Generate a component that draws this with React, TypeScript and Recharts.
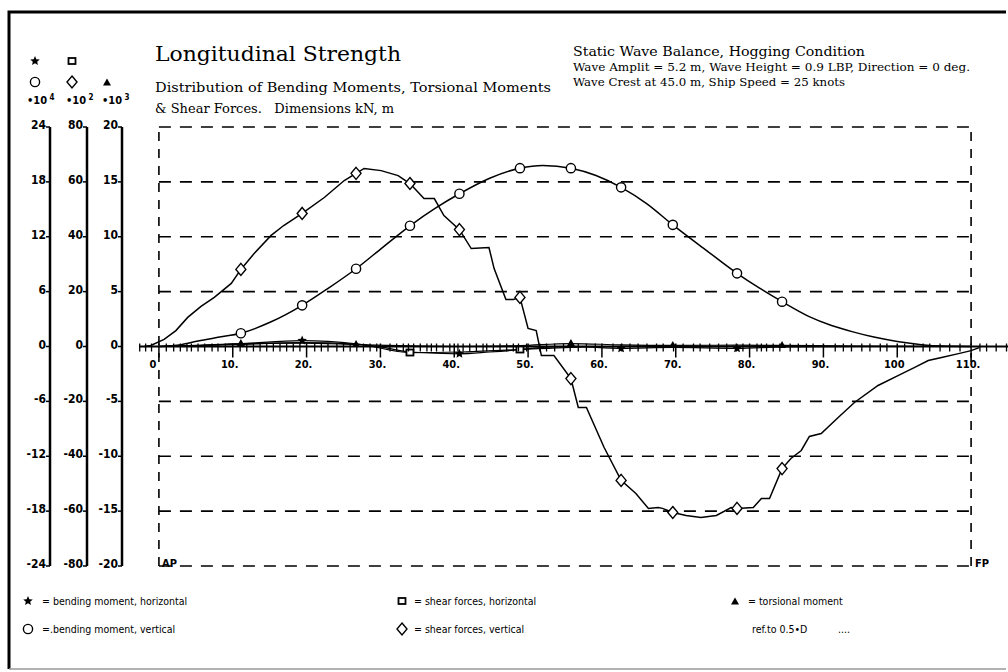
import React from "react";
import { ComposedChart, Line, Scatter, XAxis, YAxis, ReferenceLine } from "recharts";

const W = 1008;
const H = 672;

const serif = "'DejaVu Serif', 'Liberation Serif', serif";
const plotter = "'DejaVu Sans Condensed', 'DejaVu Sans', sans-serif";

// left scales: bending moments (x10^4), shear forces (x10^2), torsion (x10^3)
const ticksBending = [-24, -18, -12, -6, 0, 6, 12, 18, 24];
const ticksShear = [-80, -60, -40, -20, 0, 20, 40, 60, 80];
const ticksTorsion = [-20, -15, -10, -5, 0, 5, 10, 15, 20];
const gridLevels = [-20, -15, -10, -5, 5, 10, 15, 20];

// x axis: 10 m stations with labels, plus the frame marks in between
const majorX = [0, 10, 20, 30, 40, 50, 60, 70, 80, 90, 100, 110];
const majorLabels = ["0", "10.", "20.", "30.", "40.", "50.", "60.", "70.", "80.", "90.", "100", "110."];
const frameX = [
  -2.6, -1.8, -1.0, 1.0, 2.0, 2.9, 3.8, 4.4, 5.3, 6.2, 7.2, 8.0, 9.0, 11.0, 11.9, 12.8,
  13.7, 14.6, 15.5, 16.4, 17.3, 18.2, 19.1, 21.1, 22.0, 22.9, 24.1, 25.0, 25.9, 26.8,
  27.7, 28.6, 29.5, 31.3, 32.2, 33.1, 33.8, 34.5, 35.4, 36.3, 36.9, 37.6, 38.5, 39.4,
  40.5, 41.2, 42.1, 43.0, 43.9, 44.4, 45.3, 46.2, 47.1, 48.0, 48.7, 49.8, 51.6, 52.5,
  53.6, 54.8, 55.7, 56.8, 57.9, 59.1, 61.5, 62.7, 63.8, 64.9, 66.1, 67.4, 68.3, 69.7,
  71.0, 72.4, 73.3, 74.6, 75.8, 76.9, 78.2, 79.1, 81.0, 81.6, 82.3, 83.2, 84.1, 85.5,
  86.6, 87.7, 88.6, 91.6, 92.7, 93.8, 95.2, 96.3, 97.7, 98.6, 101.0, 102.2, 103.5,
  104.4, 105.8, 107.1, 108.5, 111.2, 112.1, 113.4, 114.8,
];

// bending moment, vertical  (x10^4 kNm)
const bmVertX = [0, 3, 5.3, 8, 11.1, 15.2, 19.4, 23, 26.7, 30.4, 34.0, 37.4, 40.7, 44.8, 48.9, 52, 55.8, 59.2, 62.6, 66.1, 69.6, 74, 78.3, 81.3, 84.4, 88, 91.1, 94, 97, 100, 103.3, 106, 110];
const bmVertV = [0, 0.2, 0.6, 1.0, 1.45, 2.7, 4.5, 6.4, 8.5, 10.9, 13.2, 15.1, 16.7, 18.4, 19.5, 19.8, 19.5, 18.7, 17.4, 15.6, 13.3, 10.6, 8.0, 6.4, 4.9, 3.3, 2.3, 1.6, 1.0, 0.55, 0.2, 0.05, 0];
const bmVertMarks = [11.1, 19.4, 26.7, 34.0, 40.7, 48.9, 55.8, 62.6, 69.6, 78.3, 84.4];

// shear forces, vertical  (x10^2 kN)
const sfVertX = [-2.0, -1.1, 0.7, 2.3, 3.9, 5.7, 7.5, 9.8, 11.1, 12.9, 15.2, 16.9, 19.4, 22.4, 25.1, 26.7, 27.8, 30.1, 32.4, 34.0, 35.9, 37.3, 38.6, 40.7, 42.3, 44.7, 45.4, 47.0, 48.0, 48.9, 50.0, 51.1, 51.8, 53.5, 55.8, 56.8, 57.9, 60.3, 62.6, 64.6, 66.3, 67.6, 68.2, 69.6, 71.4, 73.4, 75.5, 77.5, 78.3, 80.5, 81.6, 82.7, 84.4, 85.6, 87.0, 88.1, 89.7, 92.0, 94.2, 97.4, 100.1, 102.3, 104.2, 106.0, 108.3, 110.0, 111.1];
const sfVertV = [0, 0.4, 2.6, 5.8, 10.6, 14.6, 17.9, 23.0, 28.1, 33.9, 40.5, 44.1, 48.5, 54.3, 60.5, 63.1, 64.9, 64.1, 62.3, 59.4, 53.9, 53.9, 47.7, 42.6, 35.7, 36.1, 28.4, 17.1, 17.1, 17.9, 6.6, 5.8, -3.3, -3.3, -11.7, -22.2, -22.2, -36.8, -48.8, -53.6, -59.0, -58.7, -59.0, -60.5, -61.6, -62.3, -61.6, -58.7, -59.0, -58.7, -55.4, -55.4, -44.5, -40.8, -37.9, -32.8, -31.7, -25.9, -20.4, -14.2, -10.6, -7.7, -5.1, -4.0, -2.6, -1.5, -0.4];
const sfVertMarks = [11.1, 19.4, 26.7, 34.0, 40.7, 48.9, 55.8, 62.6, 69.6, 78.3, 84.4];

// bending moment, horizontal  (x10^4 kNm)
const bmHorX = [0, 5.3, 11.1, 19.4, 26.7, 30.4, 34.0, 40.7, 44.8, 48.9, 52, 55.8, 62.6, 69.6, 78.3, 84.4, 95, 110];
const bmHorV = [0, 0.1, 0.3, 0.65, 0.3, -0.1, -0.6, -0.8, -0.6, -0.35, -0.1, 0, -0.2, -0.1, -0.2, -0.05, 0, 0];
const bmHorMarks = [19.4, 40.7, 62.6, 78.3];

// shear forces, horizontal  (x10^2 kN)
const sfHorX = [0, 11.1, 19.4, 26.7, 34.0, 40.7, 48.9, 55.8, 62.6, 110];
const sfHorV = [0, 0.8, 1.4, 0.9, -2.2, -2.0, -1.1, -0.3, 0, 0];
const sfHorMarks = [34.0, 48.9];

// torsional moment  (x10^3 kNm)
const torsX = [0, 5, 11.1, 19.4, 26.7, 34.0, 40.7, 48.9, 55.8, 62.6, 69.6, 78.3, 84.4, 95, 110];
const torsV = [0, 0.1, 0.27, 0.3, 0.18, 0.05, 0, 0.08, 0.27, 0.15, 0.1, 0.12, 0.1, 0.03, 0];
const torsMarks = [11.1, 26.7, 55.8, 69.6, 84.4];

const rows = (xs: number[], vs: number[]) => xs.map((x, i) => ({ x, v: vs[i] }));

function Mark({ kind, cx, cy }: { kind: string; cx: number; cy: number }) {
  const s = { stroke: "#000", strokeWidth: 1.4 };
  if (kind === "circle") return <circle cx={cx} cy={cy} r={4.6} fill="#fff" {...s} />;
  if (kind === "diamond")
    return <polygon points={`${cx},${cy - 6} ${cx + 5},${cy} ${cx},${cy + 6} ${cx - 5},${cy}`} fill="#fff" {...s} />;
  if (kind === "square") return <rect x={cx - 3.5} y={cy - 3} width={7} height={6} fill="#fff" stroke="#000" strokeWidth={1.8} />;
  if (kind === "triangle")
    return <polygon points={`${cx},${cy - 4.5} ${cx + 4},${cy + 2.5} ${cx - 4},${cy + 2.5}`} fill="#000" />;
  const pts: string[] = [];
  for (let i = 0; i < 10; i++) {
    const r = i % 2 === 0 ? 5 : 2.3;
    const a = -Math.PI / 2 + (i * Math.PI) / 5;
    pts.push(`${cx + r * Math.cos(a)},${cy + r * Math.sin(a)}`);
  }
  return <polygon points={pts.join(" ")} fill="#000" />;
}

const dotFor = (kind: string, marks: number[]) => (p: any) => {
  const on = marks.some((m) => Math.abs(m - p.payload.x) < 0.01);
  return on ? <Mark key={`${kind}-${p.index}`} kind={kind} cx={p.cx} cy={p.cy} /> : <g key={`${kind}-${p.index}`} />;
};

const AxisTick = (props: any) => {
  const { x, y, payload } = props;
  return (
    <g>
      <line x1={x - 4} x2={x} y1={y} y2={y} stroke="#000" strokeWidth={1.5} />
      <text x={x - 4} y={y + 2} textAnchor="end" fontSize={12} fontWeight="bold" fontFamily={plotter} fill="#000">
        {payload.value}
      </text>
    </g>
  );
};

const FrameMark = (p: any) => (
  <line x1={p.cx} x2={p.cx} y1={p.cy - 3} y2={p.cy + 5} stroke="#000" strokeWidth={1.3} />
);

const MajorMark = (p: any) => (
  <g>
    <line x1={p.cx} x2={p.cx} y1={p.cy - 3} y2={p.cy + 11} stroke="#000" strokeWidth={1.5} />
    <text
      x={p.payload.x === 0 ? p.cx - 6 : p.cx - 3}
      y={p.cy + 21}
      textAnchor="middle"
      fontSize={11}
      fontWeight="bold"
      fontFamily={plotter}
      fill="#000"
    >
      {p.payload.label}
    </text>
  </g>
);

const dash = "12 9";

function Header() {
  const t = { fontFamily: plotter, fontSize: 11, fontWeight: "bold" as const, fill: "#000" };
  return (
    <svg width={W} height={H} style={{ position: "absolute", left: 0, top: 0, pointerEvents: "none" }}>
      <path d="M1006 12 H9 V669" fill="none" stroke="#000" strokeWidth={3} />
      <line x1={9} x2={1006} y1={669} y2={669} stroke="#999" strokeWidth={1.5} />

      <Mark kind="star" cx={35} cy={61} />
      <Mark kind="square" cx={72} cy={61} />
      <Mark kind="circle" cx={35} cy={82} />
      <Mark kind="diamond" cx={72} cy={82} />
      <Mark kind="triangle" cx={107} cy={83} />
      <text x={27} y={104} {...t}>•10<tspan dy={-4} fontSize={8}> 4</tspan></text>
      <text x={66} y={104} {...t}>•10<tspan dy={-4} fontSize={8}> 2</tspan></text>
      <text x={102} y={104} {...t}>•10<tspan dy={-4} fontSize={8}> 3</tspan></text>

      <text x={155} y={61} fontFamily={serif} fontSize={21} textLength={246} lengthAdjust="spacingAndGlyphs">
        Longitudinal Strength
      </text>
      <text x={155} y={92} fontFamily={serif} fontSize={13} textLength={396} lengthAdjust="spacingAndGlyphs">
        Distribution of Bending Moments, Torsional Moments
      </text>
      <text x={155} y={113} fontFamily={serif} fontSize={13} xmlSpace="preserve">
        &amp; Shear Forces.{"\u00a0\u00a0\u00a0"}Dimensions kN, m
      </text>

      <text x={573} y={56} fontFamily={serif} fontSize={13} textLength={292} lengthAdjust="spacingAndGlyphs">
        Static Wave Balance, Hogging Condition
      </text>
      <text x={573} y={71} fontFamily={serif} fontSize={11} textLength={397} lengthAdjust="spacingAndGlyphs">
        Wave Amplit = 5.2 m, Wave Height = 0.9 LBP, Direction = 0 deg.
      </text>
      <text x={573} y={86} fontFamily={serif} fontSize={11} textLength={272} lengthAdjust="spacingAndGlyphs">
        Wave Crest at 45.0 m, Ship Speed = 25 knots
      </text>

      <text x={162} y={567} {...t}>AP</text>
      <text x={975} y={567} {...t}>FP</text>

      <g fontFamily={plotter} fontSize={10.5} fill="#000">
        <Mark kind="star" cx={28} cy={601} />
        <text x={42} y={605}>= bending moment, horizontal</text>
        <Mark kind="square" cx={402} cy={601} />
        <text x={414} y={605}>= shear forces, horizontal</text>
        <Mark kind="triangle" cx={735} cy={602} />
        <text x={748} y={605}>= torsional moment</text>

        <Mark kind="circle" cx={28} cy={629} />
        <text x={42} y={633}>=.bending moment, vertical</text>
        <Mark kind="diamond" cx={402} cy={629} />
        <text x={414} y={633}>= shear forces, vertical</text>
        <text x={752} y={633}>ref.to 0.5•D</text>
        <text x={838} y={633}>....</text>
      </g>
    </svg>
  );
}

export default function App() {
  const frames = frameX.map((x) => ({ x, v: 0 }));
  const majors = majorX.map((x, i) => ({ x, v: 0, label: majorLabels[i] }));
  const line = { stroke: "#000", strokeWidth: 1.5, isAnimationActive: false, activeDot: false as const };
  const axisCommon = {
    interval: 0 as const,
    allowDataOverflow: true,
    tickSize: 0,
    tickMargin: 0,
    tickLine: false,
    tick: <AxisTick />,
    axisLine: { stroke: "#000", strokeWidth: 2.5 },
  };

  // axis ids are ordered outward from the plot: m1 torsion, m2 shear, m3 bending
  return (
    <div style={{ position: "absolute", left: 0, top: 0, width: W, height: H, background: "#fff" }}>
      <ComposedChart width={W} height={H} margin={{ top: 127, right: 0, bottom: 106, left: 10 }}>
        <XAxis type="number" dataKey="x" domain={[-5, 115]} allowDataOverflow hide />
        <YAxis yAxisId="m1" width={35} domain={[-20, 20]} ticks={ticksTorsion} {...axisCommon} />
        <YAxis yAxisId="m2" width={37} domain={[-80, 80]} ticks={ticksShear} {...axisCommon} />
        <YAxis yAxisId="m3" width={40} domain={[-24, 24]} ticks={ticksBending} {...axisCommon} />

        {gridLevels.map((v) => (
          <ReferenceLine
            key={`g${v}`}
            yAxisId="m1"
            ifOverflow="visible"
            segment={[{ x: 0, y: v }, { x: 110, y: v }]}
            stroke="#000"
            strokeWidth={1.6}
            strokeDasharray={dash}
          />
        ))}
        {[0, 110].map((x) => (
          <ReferenceLine
            key={`v${x}`}
            yAxisId="m1"
            ifOverflow="visible"
            segment={[{ x, y: -20 }, { x, y: 20 }]}
            stroke="#000"
            strokeWidth={1.6}
            strokeDasharray="9 8"
          />
        ))}
        <ReferenceLine
          yAxisId="m1"
          ifOverflow="visible"
          segment={[{ x: -2.7, y: 0 }, { x: 115, y: 0 }]}
          stroke="#000"
          strokeWidth={2}
        />

        <Line yAxisId="m3" data={rows(bmVertX, bmVertV)} dataKey="v" type="monotone" dot={dotFor("circle", bmVertMarks)} {...line} />
        <Line yAxisId="m2" data={rows(sfVertX, sfVertV)} dataKey="v" type="linear" dot={dotFor("diamond", sfVertMarks)} {...line} />
        <Line yAxisId="m3" data={rows(bmHorX, bmHorV)} dataKey="v" type="monotone" dot={dotFor("star", bmHorMarks)} {...line} strokeWidth={1.2} />
        <Line yAxisId="m2" data={rows(sfHorX, sfHorV)} dataKey="v" type="monotone" dot={dotFor("square", sfHorMarks)} {...line} strokeWidth={1.2} />
        <Line yAxisId="m1" data={rows(torsX, torsV)} dataKey="v" type="monotone" dot={dotFor("triangle", torsMarks)} {...line} strokeWidth={1.2} />

        <Scatter yAxisId="m1" data={frames} dataKey="v" shape={FrameMark} isAnimationActive={false} />
        <Scatter yAxisId="m1" data={majors} dataKey="v" shape={MajorMark} isAnimationActive={false} />
      </ComposedChart>
      <Header />
    </div>
  );
}
